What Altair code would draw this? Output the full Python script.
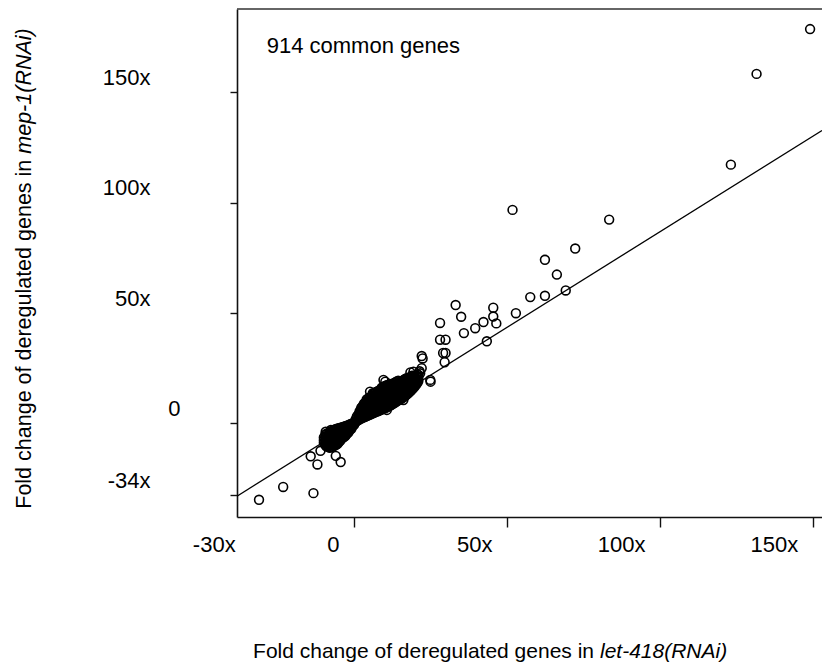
import altair as alt
import pandas as pd

# ---- data (fold change values) ----
# individually visible genes: x = let-418(RNAi), y = mep-1(RNAi)
sparse_let418 = [149.1, 131.6, 123.2, 51.8, 83.4, 72.3, 62.4, 66.3, 69.2, 62.4, 57.6, 52.9,
                 33.2, 45.5, 35.0, 28.1, 45.5, 46.5, 42.3, 39.6, 35.9, 43.4, 28.1, 29.9,
                 29.1, 29.9, 29.6, 22.1, 22.4, 25.0, 18.4, 21.4, 10.2, 6.1, -14.2, -11.0,
                 -12.0, -6.0, -4.4, -23.2, -31.1, -13.3,
                 9.6, 5.2, 10.7, 16.1, 19.4, 21.6, 24.9, 22.1, 17.8, -9.3, -7.6, -8.2]
sparse_mep1 = [178.6, 158.3, 117.2, 96.7, 92.3, 79.2, 74.1, 67.4, 60.2, 57.8, 57.2, 49.9,
               53.6, 52.4, 48.3, 45.5, 48.4, 45.3, 45.9, 43.1, 40.9, 37.2, 37.9, 37.9,
               31.9, 31.9, 27.7, 30.5, 29.4, 18.9, 23.1, 23.6, 18.9, 13.7, -14.9, -12.4,
               -18.6, -14.7, -17.5, -28.8, -34.6, -31.6,
               19.7, 14.4, 6.1, 10.6, 23.4, 22.7, 19.7, 25.0, 20.4, -3.8, -3.0, -5.3]

# densely overlapping genes (solid blobs), read column by column: (let-418 value, mep-1 values)
down_cluster = [
    (-9.9, [-6.4, -7.6, -8.8]),
    (-9.4, [-5.0, -6.2, -7.4, -8.6, -9.8]),
    (-9.0, [-4.7, -5.9, -7.1, -8.3, -9.5, -10.5]),
    (-8.5, [-4.4, -5.6, -6.8, -8.0, -9.2, -10.4]),
    (-8.1, [-4.1, -5.3, -6.5, -7.7, -8.9, -10.1, -11.0]),
    (-7.6, [-3.8, -5.0, -6.2, -7.4, -8.6, -9.8, -10.9]),
    (-7.2, [-3.4, -4.6, -5.8, -7.0, -8.2, -9.4, -10.6]),
    (-6.7, [-3.0, -4.2, -5.4, -6.6, -7.8, -9.0, -10.2]),
    (-6.3, [-2.8, -4.0, -5.2, -6.4, -7.6, -8.8, -10.0]),
    (-5.8, [-2.5, -3.7, -4.9, -6.1, -7.3, -8.5, -9.6]),
    (-5.4, [-2.3, -3.5, -4.7, -5.9, -7.1, -8.3, -9.2]),
    (-4.9, [-2.2, -3.4, -4.6, -5.8, -7.0, -8.3]),
    (-4.5, [-2.0, -3.2, -4.4, -5.6, -6.8, -7.8]),
    (-4.0, [-1.8, -3.0, -4.2, -5.4, -6.6]),
    (-3.6, [-1.6, -2.8, -4.0, -5.2, -6.4]),
    (-3.1, [-1.4, -2.6, -3.8, -5.0, -6.0]),
    (-2.7, [-1.2, -2.4, -3.6, -4.8, -5.4]),
    (-2.2, [-1.0, -2.2, -3.4, -4.5]),
    (-1.8, [-0.7, -1.9, -3.1, -4.0]),
    (-1.3, [-0.4, -1.6, -2.8]),
    (-0.9, [-0.2, -1.4, -2.4]),
    (-0.5, [0.0, -1.2]),
    (0.0, [0.3, -0.6]),
]
up_cluster = [
    (0.5, [0.6, 1.8]),
    (0.9, [1.0, 2.3, 3.2]),
    (1.4, [1.5, 2.8, 4.1]),
    (1.8, [1.8, 3.1, 4.4, 5.5]),
    (2.3, [2.2, 3.5, 4.8, 6.1, 7.0]),
    (2.7, [2.5, 3.8, 5.1, 6.4, 7.7]),
    (3.2, [2.8, 4.1, 5.4, 6.7, 8.0, 8.9]),
    (3.6, [3.0, 4.3, 5.6, 6.9, 8.2, 9.4]),
    (4.1, [3.3, 4.6, 5.9, 7.2, 8.5, 9.8, 10.8]),
    (4.5, [3.6, 4.9, 6.2, 7.5, 8.8, 10.1, 11.2]),
    (5.0, [3.9, 5.2, 6.5, 7.8, 9.1, 10.4, 11.7]),
    (5.4, [4.1, 5.4, 6.7, 8.0, 9.3, 10.6, 11.9]),
    (5.9, [4.4, 5.7, 7.0, 8.3, 9.6, 10.9, 12.2]),
    (6.3, [4.7, 6.0, 7.3, 8.6, 9.9, 11.2, 12.5, 13.3]),
    (6.8, [5.0, 6.3, 7.6, 8.9, 10.2, 11.5, 12.8, 13.9]),
    (7.2, [5.2, 6.5, 7.8, 9.1, 10.4, 11.7, 13.0, 14.2]),
    (7.7, [5.5, 6.8, 8.1, 9.4, 10.7, 12.0, 13.3, 14.6]),
    (8.1, [5.7, 7.0, 8.3, 9.6, 10.9, 12.2, 13.5, 14.8]),
    (8.6, [6.0, 7.3, 8.6, 9.9, 11.2, 12.5, 13.8, 15.1]),
    (9.0, [6.3, 7.6, 8.9, 10.2, 11.5, 12.8, 14.1, 15.4, 16.2]),
    (9.5, [6.6, 7.9, 9.2, 10.5, 11.8, 13.1, 14.4, 15.7, 16.5]),
    (9.9, [6.8, 8.1, 9.4, 10.7, 12.0, 13.3, 14.6, 15.9, 16.8]),
    (10.4, [7.1, 8.4, 9.7, 11.0, 12.3, 13.6, 14.9, 16.2, 17.1]),
    (10.8, [7.4, 8.7, 10.0, 11.3, 12.6, 13.9, 15.2, 16.5, 17.4]),
    (11.3, [7.7, 9.0, 10.3, 11.6, 12.9, 14.2, 15.5, 16.8]),
    (11.7, [8.0, 9.3, 10.6, 11.9, 13.2, 14.5, 15.8, 17.1, 17.9]),
    (12.2, [8.4, 9.7, 11.0, 12.3, 13.6, 14.9, 16.2, 17.5]),
    (12.6, [8.8, 10.1, 11.4, 12.7, 14.0, 15.3, 16.6, 17.9]),
    (13.1, [9.2, 10.5, 11.8, 13.1, 14.4, 15.7, 17.0, 18.3]),
    (13.5, [9.6, 10.9, 12.2, 13.5, 14.8, 16.1, 17.4, 18.7]),
    (14.0, [10.0, 11.3, 12.6, 13.9, 15.2, 16.5, 17.8, 19.0]),
    (14.4, [10.4, 11.7, 13.0, 14.3, 15.6, 16.9, 18.2, 19.3]),
    (14.9, [10.8, 12.1, 13.4, 14.7, 16.0, 17.3, 18.6]),
    (15.3, [11.1, 12.4, 13.7, 15.0, 16.3, 17.6, 18.9]),
    (15.8, [11.5, 12.8, 14.1, 15.4, 16.7, 18.0, 19.3]),
    (16.2, [11.9, 13.2, 14.5, 15.8, 17.1, 18.4, 19.7]),
    (16.7, [12.4, 13.7, 15.0, 16.3, 17.6, 18.9, 20.1]),
    (17.1, [12.9, 14.2, 15.5, 16.8, 18.1, 19.4, 20.5]),
    (17.6, [13.5, 14.8, 16.1, 17.4, 18.7, 20.0]),
    (18.0, [14.1, 15.4, 16.7, 18.0, 19.3, 20.6]),
    (18.5, [14.7, 16.0, 17.3, 18.6, 19.9, 21.2]),
    (18.9, [15.3, 16.6, 17.9, 19.2, 20.5, 21.6]),
    (19.4, [16.0, 17.3, 18.6, 19.9, 21.2]),
    (19.8, [16.7, 18.0, 19.3, 20.6, 21.7]),
    (20.3, [17.6, 18.9, 20.2, 21.5]),
    (20.7, [18.4, 19.7, 21.0, 22.2]),
    (21.0, [19.2, 20.6, 22.0]),
]

# fitted line (slope, intercept) and axis ranges
fit_slope = 0.866
fit_intercept = 0.2
x_range = [-38.3, 153.0]
y_range = [-42.4, 187.7]

# tick values and labels
x_tick_values = [-34, 0, 50, 100, 150]
x_tick_labels = ["-30x", "0", "50x", "100x", "150x"]
y_tick_values = [-32.5, 0, 50, 100, 150]
y_tick_labels = ["-34x", "0", "50x", "100x", "150x"]

annotation = "914 common genes"
x_title = ["Fold change of deregulated genes in", "let-418(RNAi)"]
y_title = ["Fold change of deregulated genes in", "mep-1(RNAi)"]

# ---- build tables ----
xs, ys = list(sparse_let418), list(sparse_mep1)
for cx, col in down_cluster + up_cluster:
    for v in col:
        xs.append(cx)
        ys.append(v)
genes = pd.DataFrame({"x": xs, "y": ys})
fit = pd.DataFrame({"x": x_range, "y": [fit_slope * v + fit_intercept for v in x_range]})


def label_expr(values, labels):
    expr = "''"
    for v, l in zip(values, labels):
        expr = f"datum.value == {v} ? '{l}' : ({expr})"
    return expr


FONT = "Liberation Sans"
W, H = 585, 508
xs_scale = alt.Scale(domain=x_range, nice=False, zero=False)
ys_scale = alt.Scale(domain=y_range, nice=False, zero=False)

x_axis = alt.Axis(values=x_tick_values, labelExpr=label_expr(x_tick_values, x_tick_labels),
                  title=None, grid=False, tickSize=10, tickWidth=1.4,
                  tickColor={"condition": {"test": "datum.value < -20", "value": "transparent"}, "value": "#111"},
                  domainColor="#111", domainWidth=1.6,
                  labelFont=FONT, labelFontSize=22, labelColor="black",
                  labelAlign="right", labelBaseline="middle", labelOffset=-15, labelPadding=17,
                  labelOverlap=False, labelFlush=False)
y_axis = alt.Axis(values=y_tick_values, labelExpr=label_expr(y_tick_values, y_tick_labels),
                  title=None, grid=False, tickSize=7, tickWidth=1.4, tickColor="#111",
                  domainColor="#111", domainWidth=1.6,
                  labelFont=FONT, labelFontSize=22, labelColor="black",
                  labelAlign="right", labelBaseline="middle", labelOffset=-15,
                  labelPadding={"condition": {"test": "datum.value == 0", "value": 50}, "value": 80},
                  labelOverlap=False, labelFlush=False)

top_border = alt.Chart(pd.DataFrame({"t": [0]})).mark_rule(color="#333", strokeWidth=1.6).encode(
    x=alt.value(0), x2=alt.value(W), y=alt.value(0))

line = alt.Chart(fit).mark_line(color="black", strokeWidth=1.3, clip=True).encode(
    x=alt.X("x:Q", scale=xs_scale, axis=x_axis),
    y=alt.Y("y:Q", scale=ys_scale, axis=y_axis),
)
points = alt.Chart(genes).mark_point(shape="circle", filled=False, size=78, strokeWidth=1.6,
                                     color="black", opacity=1, clip=True).encode(
    x=alt.X("x:Q", scale=xs_scale, axis=x_axis),
    y=alt.Y("y:Q", scale=ys_scale, axis=y_axis),
)


def text_layer(txt, x, y, align="left", baseline="alphabetic", angle=0, style="normal", size=22):
    return alt.Chart(pd.DataFrame({"t": [txt]})).mark_text(
        align=align, baseline=baseline, angle=angle, font=FONT, fontSize=size,
        fontStyle=style, color="black").encode(x=alt.value(x), y=alt.value(y), text="t:N")


texts = [
    text_layer(annotation, 29.7, 44.0),
    # x title: plain part ends at the split, italic part starts one space later
    text_layer(x_title[0], 357, 642.7, align="right", baseline="middle", size=21),
    text_layer(x_title[1], 363, 642.7, align="left", baseline="middle", style="italic", size=21),
    # y title (reads bottom to top)
    text_layer(y_title[0], -212, 150.7, align="right", baseline="middle", angle=270, size=21.5),
    text_layer(y_title[1], -212, 144.7, align="left", baseline="middle", angle=270, style="italic", size=21.5),
]

chart = alt.layer(top_border, line, points, *texts).properties(
    width=W, height=H,
    autosize=alt.AutoSizeParams(type="none"),
    padding={"left": 229, "top": 1, "right": 0, "bottom": 145},
).configure_view(stroke=None)

chart.save("out.html", embed_options={"renderer": "svg", "actions": False})
